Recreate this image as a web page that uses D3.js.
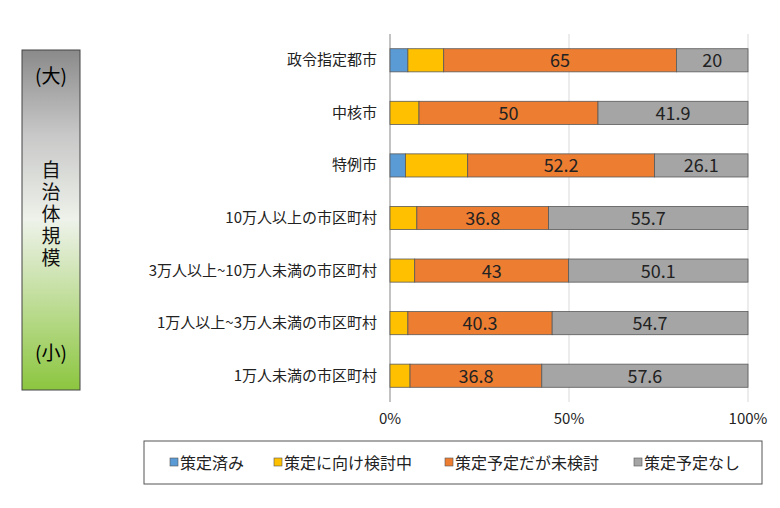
<!DOCTYPE html><html><head><meta charset="utf-8"><script src="https://cdn.jsdelivr.net/npm/d3@7"></script>
<style>body{margin:0;background:#fff}text{font-family:"Noto Sans CJK JP","Noto Sans",sans-serif}</style></head><body><svg id="c" width="780" height="508"></svg><script>
const categories=["政令指定都市","中核市","特例市","10万人以上の市区町村","3万人以上~10万人未満の市区町村","1万人以上~3万人未満の市区町村","1万人未満の市区町村"];
const seriesNames=["策定済み","策定に向け検討中","策定予定だが未検討","策定予定なし"];
const colors=["#5b9bd5","#ffc000","#ed7d31","#a5a5a5"];
const done=[5,0,4.3,0,0,0,0];
const considering=[10,8.1,17.4,7.5,6.9,5,5.6];
const planned=[65,50,52.2,36.8,43,40.3,36.8];
const none=[20,41.9,26.1,55.7,50.1,54.7,57.6];
const ticks=[0,50,100];
const vals=[done,considering,planned,none];
const svg=d3.select("#c");
const x=d3.scaleLinear().domain([0,100]).range([390,748]);
const y=d3.scaleBand().domain(categories).range([34,402]).paddingInner(0.56).paddingOuter(0.28);
const g=svg.append("defs").append("linearGradient").attr("id","gr").attr("x1",0).attr("x2",0).attr("y1",0).attr("y2",1);
g.append("stop").attr("offset","0%").attr("stop-color","#8a8a8a");
g.append("stop").attr("offset","25%").attr("stop-color","#c8c8c8");
g.append("stop").attr("offset","50%").attr("stop-color","#eef2ea");
g.append("stop").attr("offset","100%").attr("stop-color","#8cc63f");
svg.append("rect").attr("x",22).attr("y",50).attr("width",58).attr("height",340).attr("fill","url(#gr)").attr("stroke","#444");
svg.append("text").attr("x",51).attr("y",83).attr("text-anchor","middle").attr("font-size",19).text("(大)");
"自治体規模".split("").forEach((ch,i)=>svg.append("text").attr("x",51).attr("y",177+i*22).attr("text-anchor","middle").attr("font-size",19).attr("fill","#111").text(ch));
svg.append("text").attr("x",51).attr("y",360).attr("text-anchor","middle").attr("font-size",19).text("(小)");
svg.selectAll(".gl").data(ticks).join("line").attr("x1",d=>x(d)).attr("x2",d=>x(d)).attr("y1",34).attr("y2",402).attr("stroke","#d9d9d9");
svg.append("line").attr("x1",x(0)).attr("x2",x(0)).attr("y1",34).attr("y2",402).attr("stroke","#999");
svg.selectAll(".tk").data(ticks).join("text").attr("x",d=>x(d)).attr("y",424).attr("text-anchor","middle").attr("font-size",15).attr("fill","#222").text(d=>d+"%");
categories.forEach((c,i)=>{
 let acc=0;
 vals.forEach((s,j)=>{const v=s[i];if(v>0){
  svg.append("rect").attr("x",x(acc)).attr("y",y(c)).attr("width",x(acc+v)-x(acc)).attr("height",y.bandwidth()).attr("fill",colors[j]).attr("stroke","#595959").attr("stroke-width",0.8);
  if(j>=2)svg.append("text").attr("x",(x(acc)+x(acc+v))/2).attr("y",y(c)+y.bandwidth()/2+7).attr("text-anchor","middle").attr("font-size",18).attr("fill","#222").text(v);
 } acc+=v;});
 svg.append("text").attr("x",377).attr("y",y(c)+y.bandwidth()/2+5).attr("text-anchor","end").attr("font-size",15).attr("fill","#222").text(c);
});
svg.append("rect").attr("x",144).attr("y",441).attr("width",618).attr("height",43).attr("fill","#fff").attr("stroke","#555");
seriesNames.forEach((n,i)=>{const xx=[180,284,455,644][i];
 svg.append("rect").attr("x",xx-10).attr("y",458).attr("width",8).attr("height",8).attr("fill",colors[i]).attr("stroke","#555").attr("stroke-width",0.6);
 svg.append("text").attr("x",xx).attr("y",469).attr("font-size",16).attr("fill","#222").text(n);});
</script></body></html>
